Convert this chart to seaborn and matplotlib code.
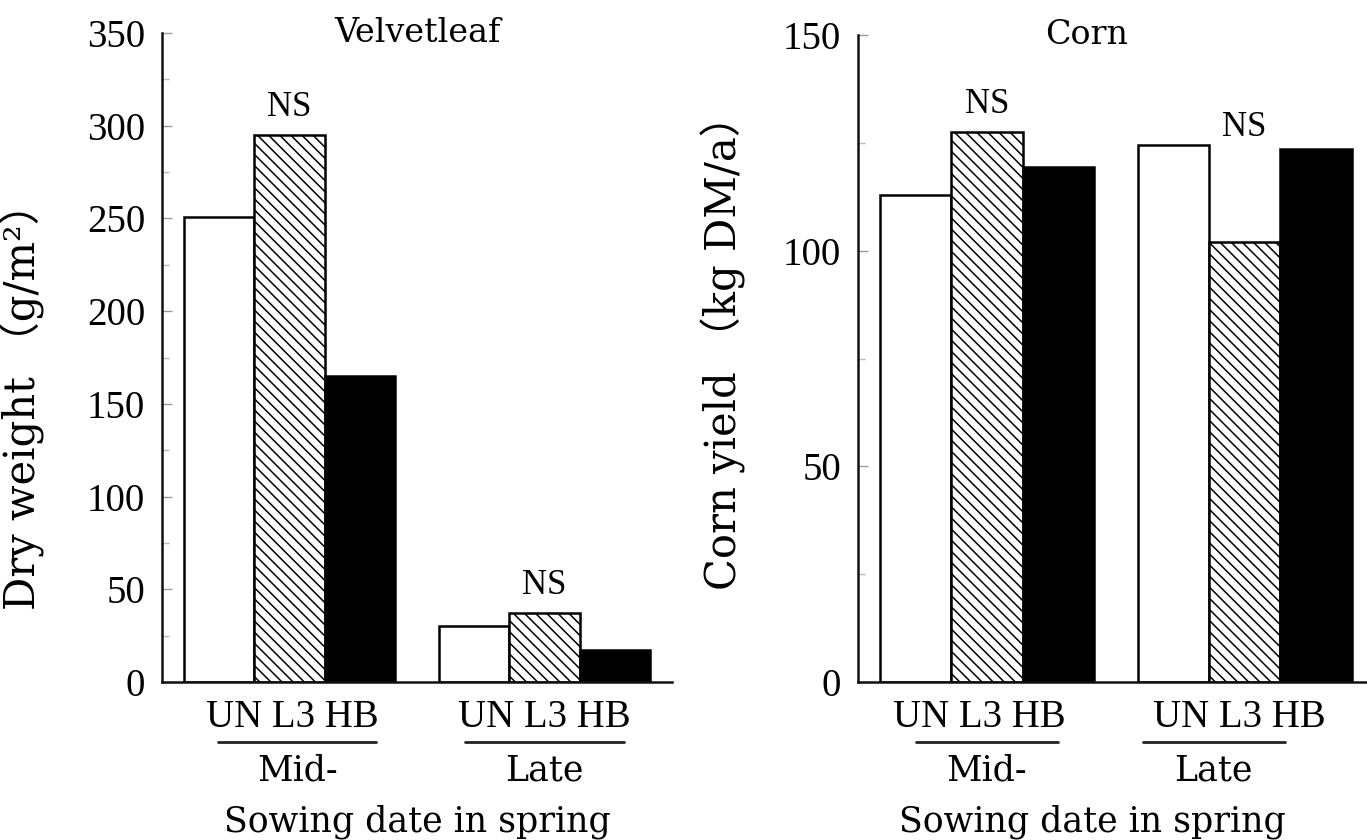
import numpy as np
import pandas as pd
import matplotlib.pyplot as plt
import matplotlib.transforms as mtransforms
from matplotlib.ticker import MultipleLocator
import seaborn as sns

# --- data ---
sowing = ["Mid-", "Late"]
treatments = ["UN", "L3", "HB"]
velvetleaf_dw = [[251, 295, 165], [30, 37, 17]]      # g/m2
corn_yield = [[113, 127.5, 119.5], [124.5, 102, 123.5]]  # kg DM/a
ns_marks = ["NS", "NS"]

sns.set_style("ticks")
plt.rcParams["font.family"] = ["Liberation Serif", "DejaVu Serif"]
plt.rcParams["hatch.linewidth"] = 1.1
plt.rcParams["text.color"] = "black"
plt.rcParams["axes.labelcolor"] = "black"
plt.rcParams["ytick.labelcolor"] = "black"
MONO = ["DejaVu Serif", "Noto Sans CJK SC"]


def _frame(values):
    rows = []
    for s, vals in zip(sowing, values):
        for t, v in zip(treatments, vals):
            rows.append({"sowing": s, "treatment": t, "value": v})
    return pd.DataFrame(rows)


def draw_panel(ax, values, ymax, title, title_x, ylabel, ylab_xy,
               xlim_right, uline_half, shifts, ns_off, xlab_x):
    df = _frame(values)
    sns.barplot(data=df, x="sowing", y="value", hue="treatment",
                order=sowing, hue_order=treatments,
                palette={"UN": "white", "L3": "white", "HB": "black"},
                edgecolor="black", linewidth=1.8, width=0.83,
                saturation=1, errorbar=None, legend=False, ax=ax)
    for bar in ax.containers[1]:
        bar.set_hatch("\\\\\\")

    ax.set_xlim(-0.5, xlim_right)
    ax.set_ylim(0, ymax)
    ax.yaxis.set_major_locator(MultipleLocator(50))
    ax.yaxis.set_minor_locator(MultipleLocator(25))
    ax.tick_params(axis="y", which="major", direction="in", length=7,
                   width=1, color="#999999", labelsize=28, pad=12)
    ax.tick_params(axis="y", which="minor", direction="in", length=5,
                   width=1, color="#bbbbbb")
    ax.set_xticks([])
    ax.set_xlabel("")
    ax.set_ylabel(ylabel, fontsize=30, family=MONO)
    ax.yaxis.set_label_coords(*ylab_xy)
    sns.despine(ax=ax)
    for sp in ("left", "bottom"):
        ax.spines[sp].set_linewidth(1.8)
        ax.spines[sp].set_color("#111111")

    ax.text(title_x, 1.0, title, transform=ax.transAxes, ha="center",
            va="center", fontsize=24, family=MONO)

    for i, vals in enumerate(values):
        ax.annotate(ns_marks[i], xy=(i, max(vals)), xytext=(0, ns_off[i]),
                    textcoords="offset points", ha="center",
                    va="bottom", fontsize=25)

    trans = mtransforms.blended_transform_factory(ax.transData,
                                                  ax.transAxes)
    for i, s in enumerate(sowing):
        sh_txt, sh_line = shifts[i]
        ax.text(i + sh_txt, -0.055, "UN L3 HB", transform=trans,
                ha="center", va="center", fontsize=28)
        ax.plot([i + sh_line - uline_half, i + sh_line + uline_half],
                [-0.092, -0.092], transform=trans, color="#222222",
                lw=2, clip_on=False)
        ax.text(i + sh_line, -0.137, s, transform=trans, ha="center",
                va="center", fontsize=25, family=MONO)
    ax.text(xlab_x, -0.216, "Sowing date in spring",
            transform=ax.transAxes, ha="center", va="center",
            fontsize=25, family=MONO)


fig = plt.figure(figsize=(13.67, 8.4), dpi=100)
ax1 = fig.add_axes([162 / 1367, 1 - 682 / 840, 510 / 1367, 649 / 840])
ax2 = fig.add_axes([858 / 1367, 1 - 682 / 840, 509 / 1367, 647 / 840])

draw_panel(ax1, velvetleaf_dw, 350, "Velvetleaf", 0.5,
           "Dry weight （g/m²）", (-0.23, 0.44), 1.5, 0.31,
           [(0.01, 0.03), (0.0, 0.0)], [8, 8], 0.5)
draw_panel(ax2, corn_yield, 150, "Corn", 0.45,
           "Corn yield （kg DM/a）", (-0.22, 0.525), 1.475, 0.275,
           [(-0.03, 0.0), (-0.02, -0.12)], [8, 1], 0.46)

fig.savefig("out.png", dpi=100, facecolor="white")
